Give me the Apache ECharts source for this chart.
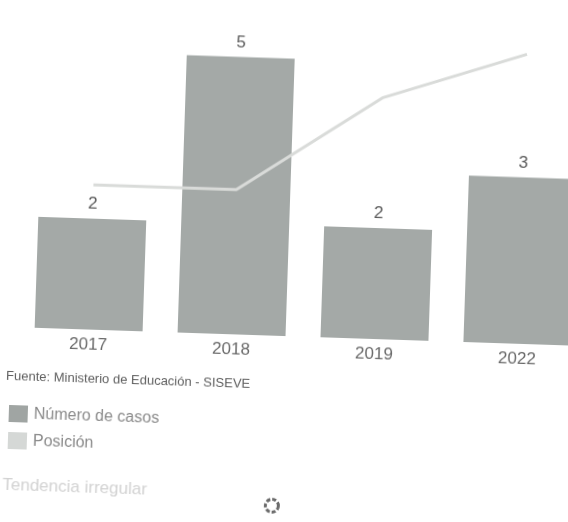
<!DOCTYPE html>
<html><head><meta charset="utf-8">
<style>
html,body{margin:0;padding:0;background:#fff;width:568px;height:522px;overflow:hidden}
#c{position:absolute;left:0;top:0;width:640px;height:560px;transform-origin:284px 261px;transform:rotate(1.9deg)}
</style>
<script src="https://cdn.jsdelivr.net/npm/echarts@6/dist/echarts.min.js"></script>
</head><body><div id="c"></div>
<script>
const categories = ['2017','2018','2019','2022'];
const casos = [2,5,2,3];
const posicion = [3,3,5,6];
const posicionLabels = ['','','','6'];
const chart = echarts.init(document.getElementById('c'),null,{renderer:'canvas'});
const ff = '"Liberation Sans",Arial,sans-serif';
chart.setOption({
  animation:false,
  backgroundColor:'#fff',
  textStyle:{fontFamily:ff},
  grid:{left:19.5,width:572,top:3,height:333},
  title:{text:'Fuente: Ministerio de Educación - SISEVE',left:10,top:379,padding:0,
    textStyle:{fontSize:13,fontWeight:'normal',color:'#5f5f5f',fontFamily:ff}},
  legend:{orient:'vertical',left:14,top:414,padding:0,itemWidth:19,itemHeight:17,itemGap:10,
    icon:'rect',selectedMode:false,
    textStyle:{fontSize:16,color:'#8a8a8a',fontFamily:ff,padding:[0,0,0,1]},
    data:[{name:'Número de casos',itemStyle:{color:'#a0a5a3'}},{name:'Posición',itemStyle:{color:'#d5d8d6'}}]},
  xAxis:{type:'category',data:categories,
    axisLine:{show:false},axisTick:{show:false},
    axisLabel:{fontSize:17,color:'#6a6a6a',margin:7,fontFamily:ff}},
  yAxis:[
    {type:'value',min:0,max:6,show:false},
    {type:'value',min:0,max:6.9,show:false}
  ],
  series:[
    {name:'Número de casos',type:'bar',data:casos,barWidth:108,yAxisIndex:0,
      itemStyle:{color:'#a4a9a7'},
      label:{show:true,position:'top',distance:6,fontSize:17,color:'#5a5a5a',fontFamily:ff}},
    {name:'Posición',type:'line',data:posicion,yAxisIndex:1,symbol:'none',
      lineStyle:{color:'#d9dbd9',width:3},itemStyle:{color:'#d5d8d6'},
      label:{show:true,position:'right',distance:3,fontSize:17,color:'#8f8f8f',fontFamily:ff,
        formatter:p=>posicionLabels[p.dataIndex]}}
  ],
  graphic:[
    {type:'text',left:10,top:486,style:{text:'Tendencia irregular',fontSize:17,fill:'#d2d2d2',fontFamily:ff}},
    {type:'circle',shape:{cx:280,cy:506,r:6.5},style:{fill:'none',stroke:'#6a6a6a',lineWidth:3,lineDash:[4,2]}}
  ]
});
</script></body></html>
